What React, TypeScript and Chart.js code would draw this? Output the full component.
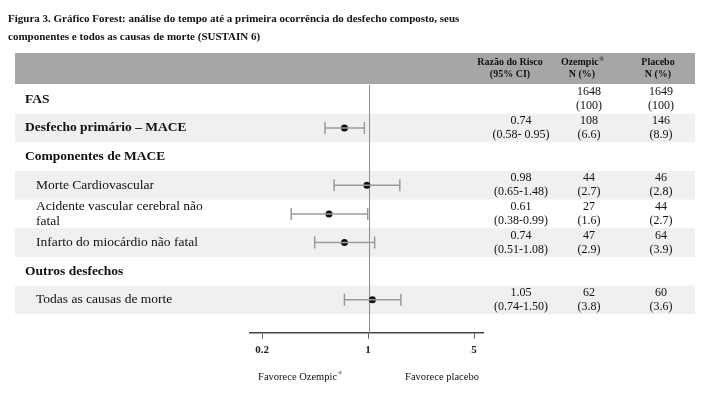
import React, { useEffect, useRef } from "react";
import { Chart, registerables } from "chart.js";

Chart.register(...registerables);

const titleLines = [
  "Figura 3. Gráfico Forest: análise do tempo até a primeira ocorrência do desfecho composto, seus",
  "componentes e todos as causas de morte (SUSTAIN 6)",
];

const rowLabels: string[][] = [
  ["FAS"],
  ["Desfecho primário – MACE"],
  ["Componentes de MACE"],
  ["Morte Cardiovascular"],
  ["Acidente vascular cerebral não", "fatal"],
  ["Infarto do miocárdio não fatal"],
  ["Outros desfechos"],
  ["Todas as causas de morte"],
];
const rowIsHeading = [true, true, true, false, false, false, true, false];
const rowShaded = [false, true, false, true, false, true, false, true];

const hazardRatio: (number | null)[] = [null, 0.74, null, 0.98, 0.61, 0.74, null, 1.05];
const ciLower: (number | null)[] = [null, 0.58, null, 0.65, 0.38, 0.51, null, 0.74];
const ciUpper: (number | null)[] = [null, 0.95, null, 1.48, 0.99, 1.08, null, 1.5];

const hrText = ["", "0.74", "", "0.98", "0.61", "0.74", "", "1.05"];
const ciText = ["", "(0.58- 0.95)", "", "(0.65-1.48)", "(0.38-0.99)", "(0.51-1.08)", "", "(0.74-1.50)"];
const ozempicN = ["1648", "108", "", "44", "27", "47", "", "62"];
const ozempicPct = ["(100)", "(6.6)", "", "(2.7)", "(1.6)", "(2.9)", "", "(3.8)"];
const placeboN = ["1649", "146", "", "46", "44", "64", "", "60"];
const placeboPct = ["(100)", "(8.9)", "", "(2.8)", "(2.7)", "(3.9)", "", "(3.6)"];

const columnHeaders = [
  ["Razão do Risco", "(95% CI)"],
  ["Ozempic®", "N (%)"],
  ["Placebo", "N (%)"],
];

const axisTicks = [0.2, 1, 5];
const axisTickLabels = ["0.2", "1", "5"];
const favourLabels = ["Favorece Ozempic®", "Favorece placebo"];

const SERIF = '"Liberation Serif", "Times New Roman", serif';

// draws text, rendering a trailing "®" as a small raised mark; x is the centre
function drawCentredWithReg(ctx: CanvasRenderingContext2D, text: string, x: number, y: number, font: string, size: number) {
  const hasReg = text.endsWith("®");
  const main = hasReg ? text.slice(0, -1) : text;
  ctx.font = font.replace("{s}", `${size}px`);
  const w1 = ctx.measureText(main).width;
  let w2 = 0;
  if (hasReg) {
    ctx.font = font.replace("{s}", `${size * 0.6}px`);
    w2 = ctx.measureText("®").width;
  }
  const start = x - (w1 + w2) / 2;
  ctx.textAlign = "left";
  ctx.font = font.replace("{s}", `${size}px`);
  ctx.fillText(main, start, y);
  if (hasReg) {
    ctx.font = font.replace("{s}", `${size * 0.6}px`);
    ctx.fillText("®", start + w1 + 0.5, y - size * 0.3);
  }
}

export default function App() {
  const ref = useRef<HTMLCanvasElement | null>(null);

  useEffect(() => {
    const canvas = ref.current;
    if (!canvas) return;

    const ciDatasets = hazardRatio
      .map((hr, i) => ({ hr, i }))
      .filter((r) => r.hr !== null)
      .map(({ i }) => ({
        data: [
          { x: ciLower[i] as number, y: i },
          { x: ciUpper[i] as number, y: i },
        ],
        showLine: true,
        borderColor: "#9a9a9a",
        borderWidth: 1.5,
        pointStyle: "line" as const,
        rotation: 90,
        pointRadius: 6,
        pointHoverRadius: 6,
        pointBorderColor: "#9a9a9a",
        pointBorderWidth: 1.5,
        xAxisID: "x",
        yAxisID: "y",
      }));

    const dotData = hazardRatio
      .map((hr, i) => (hr === null ? null : { x: hr, y: i }))
      .filter((d) => d !== null) as { x: number; y: number }[];

    const decor = {
      id: "forestDecor",
      beforeDraw(chart: any) {
        const ctx = chart.ctx as CanvasRenderingContext2D;
        const ys = chart.scales.y;
        ctx.save();
        ctx.fillStyle = "#ffffff";
        ctx.fillRect(0, 0, chart.width, chart.height);
        ctx.fillStyle = "#a6a6a6";
        ctx.fillRect(15, 53, 680, 31);
        const step = Math.abs(ys.getPixelForValue(1) - ys.getPixelForValue(0));
        ctx.fillStyle = "#f0f0f0";
        rowShaded.forEach((s, i) => {
          if (!s) return;
          const c = ys.getPixelForValue(i);
          ctx.fillRect(15, c - step / 2, 680, step);
        });
        ctx.restore();
      },
      beforeDatasetsDraw(chart: any) {
        const ctx = chart.ctx as CanvasRenderingContext2D;
        const xs = chart.scales.x;
        const area = chart.chartArea;
        const px = Math.round(xs.getPixelForValue(1)) + 0.5;
        ctx.save();
        ctx.strokeStyle = "#8c8c8c";
        ctx.lineWidth = 1;
        ctx.beginPath();
        ctx.moveTo(px, area.top);
        ctx.lineTo(px, area.bottom);
        ctx.stroke();
        ctx.restore();
      },
      afterDraw(chart: any) {
        const ctx = chart.ctx as CanvasRenderingContext2D;
        const ys = chart.scales.y;
        ctx.save();
        ctx.fillStyle = "#111";
        ctx.textBaseline = "middle";
        // title
        ctx.font = `bold 11px ${SERIF}`;
        ctx.textAlign = "left";
        titleLines.forEach((t, k) => ctx.fillText(t, 8, 19 + k * 18));
        // column headers
        const headerX = [510, 582, 658];
        columnHeaders.forEach((lines, c) => {
          lines.forEach((t, k) =>
            drawCentredWithReg(ctx, t, headerX[c], 62 + k * 12, `bold {s} ${SERIF}`, 10)
          );
        });
        // row labels
        rowLabels.forEach((lines, i) => {
          const c = ys.getPixelForValue(i);
          ctx.font = `${rowIsHeading[i] ? "bold " : ""}13.5px ${SERIF}`;
          ctx.textAlign = "left";
          const x = rowIsHeading[i] ? 25 : 36;
          const n = lines.length;
          lines.forEach((t, k) => {
            const y = c + (k - (n - 1) / 2) * 15;
            ctx.fillText(t, x, y);
          });
        });
        // numeric columns
        ctx.font = `12px ${SERIF}`;
        ctx.textAlign = "center";
        const cols: [string[], string[], number][] = [
          [hrText, ciText, 521],
          [ozempicN, ozempicPct, 589],
          [placeboN, placeboPct, 661],
        ];
        for (let i = 0; i < rowLabels.length; i++) {
          const c = ys.getPixelForValue(i);
          cols.forEach(([a, b, x]) => {
            if (a[i]) ctx.fillText(a[i], x, c - 7);
            if (b[i]) ctx.fillText(b[i], x, c + 7);
          });
        }
        // favour labels
        drawCentredWithReg(ctx, favourLabels[0], 300, 377, `{s} ${SERIF}`, 10.5);
        drawCentredWithReg(ctx, favourLabels[1], 442, 377, `{s} ${SERIF}`, 10.5);
        ctx.restore();
      },
    };

    const chart = new Chart(canvas, {
      type: "scatter",
      data: {
        datasets: [
          ...ciDatasets,
          {
            data: dotData,
            showLine: false,
            pointStyle: "circle",
            pointRadius: 3.5,
            pointHoverRadius: 3.5,
            backgroundColor: "#111",
            borderColor: "#111",
            pointBorderWidth: 0,
            xAxisID: "x",
            yAxisID: "y",
          } as any,
        ],
      },
      options: {
        responsive: false,
        animation: false,
        devicePixelRatio: 1,
        layout: { padding: { left: 250, right: 227, top: 85, bottom: 36 } },
        plugins: { legend: { display: false }, tooltip: { enabled: false } },
        scales: {
          x: {
            type: "logarithmic",
            min: 0.227,
            max: 4.19,
            display: false,
          },
          x2: {
            type: "logarithmic",
            position: "bottom",
            min: 0.1666,
            max: 5.73,
            afterBuildTicks: (scale: any) => {
              scale.ticks = axisTicks.map((v) => ({ value: v }));
            },
            border: { display: true, color: "#444", width: 1.5 },
            grid: {
              drawOnChartArea: false,
              drawTicks: true,
              tickLength: 6,
              color: "#666",
              lineWidth: 1,
            },
            ticks: {
              autoSkip: false,
              maxRotation: 0,
              padding: 5,
              color: "#222",
              font: { family: SERIF, size: 11, weight: "bold" },
              callback: (v: any) => {
                const idx = axisTicks.indexOf(Number(v));
                return idx >= 0 ? axisTickLabels[idx] : "";
              },
            },
          },
          y: {
            type: "linear",
            min: -0.5,
            max: 8.15,
            reverse: true,
            display: false,
          },
        },
      } as any,
      plugins: [decor],
    });

    return () => chart.destroy();
  }, []);

  return (
    <div style={{ position: "absolute", left: 0, top: 0, width: 710, height: 398 }}>
      <canvas ref={ref} width={710} height={398} style={{ width: 710, height: 398 }} />
    </div>
  );
}
